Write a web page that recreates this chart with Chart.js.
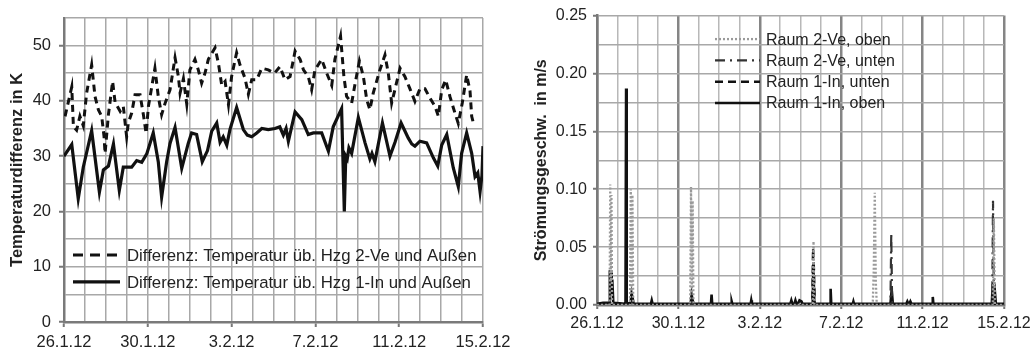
<!DOCTYPE html>
<html>
<head>
<meta charset="utf-8">
<script src="https://cdn.jsdelivr.net/npm/chart.js@4.4.0/dist/chart.umd.min.js"></script>
<style>
  body { margin: 0; background: #fff; }
  #wrap { position: relative; width: 1033px; height: 354px; }
  #tempChart { position: absolute; left: 0; top: 0; }
  #flowChart { position: absolute; left: 520px; top: 0; }
</style>
</head>
<body>
<div id="wrap">
  <canvas id="tempChart" width="520" height="354"></canvas>
  <canvas id="flowChart" width="513" height="354"></canvas>
</div>
<script>
// x = Tage seit 26.1.12 0:00
const dateLabels = ['26.1.12', '30.1.12', '3.2.12', '7.2.12', '11.2.12', '15.2.12'];

const tempLegend = [
  'Differenz: Temperatur üb. Hzg 2-Ve und Außen',
  'Differenz: Temperatur üb. Hzg 1-In und Außen'
];
const flowLegend = ['Raum 2-Ve, oben', 'Raum 2-Ve, unten', 'Raum 1-In, unten', 'Raum 1-In, oben'];

// Temperaturdifferenz in K
const diff2Ve = [
  [0.05,37.2],[0.37,42.5],[0.45,35.3],[0.6,34.7],[0.76,37.2],[0.92,35.5],[1.08,41.4],[1.32,46.5],
  [1.48,40.8],[1.64,38.4],[1.8,37.2],[1.91,33.6],[1.96,30.5],[2.12,37.5],[2.32,43.5],[2.44,39.7],
  [2.68,38.1],[2.83,39],[2.99,33.5],[3.07,36],[3.23,37.8],[3.39,41.1],[3.63,41.1],[3.79,37.5],
  [3.92,34.1],[4.03,39],[4.34,45.9],[4.5,40.8],[4.66,37.5],[4.82,39.5],[5.06,42],[5.3,47.8],
  [5.46,44.4],[5.54,41.4],[5.7,44],[5.86,39.4],[6.01,45.6],[6.25,47.5],[6.41,45.6],[6.57,43.2],
  [6.73,45],[6.89,47.5],[7.21,49.6],[7.37,46.8],[7.53,42.8],[7.69,43.5],[7.85,39.3],[8.0,44.4],
  [8.24,48.7],[8.4,46.5],[8.64,44.1],[8.8,41.2],[8.96,43.8],[9.2,43.8],[9.44,45.9],[9.75,45.6],
  [10.05,45],[10.31,46.2],[10.55,43.8],[10.79,44.4],[11.03,49],[11.27,47.5],[11.43,45.6],[11.66,44.4],
  [11.82,42],[11.98,45.6],[12.3,47.5],[12.54,45],[12.78,42.8],[12.93,47.5],[13.2,51.7],[13.36,44.4],
  [13.49,40.8],[13.73,39.6],[13.89,43],[14.1,47.2],[14.29,44.4],[14.45,40.2],[14.6,38.4],[14.76,41.4],
  [15.08,45.6],[15.32,48.3],[15.48,45],[15.64,39.6],[15.8,42.1],[16.04,45.9],[16.27,44.4],[16.51,42.2],
  [16.75,39.9],[16.99,42.2],[17.23,42.2],[17.47,40.5],[17.71,39],[17.87,37.2],[18.03,42],[18.22,43.8],
  [18.42,40.8],[18.66,37.8],[18.82,35.9],[19.01,39.6],[19.22,44.7],[19.38,41.8],[19.46,37.2],[19.54,36]
];
const diff1In = [
  [0,30],[0.37,32.1],[0.68,22.3],[0.92,28],[1.32,34.6],[1.69,23.5],[1.88,27.5],[2.12,28.2],
  [2.36,32.2],[2.64,23.8],[2.83,28],[3.23,28],[3.47,29.2],[3.71,28.9],[3.95,30.4],[4.26,34.2],
  [4.5,29],[4.66,22.6],[4.9,29],[5.06,32.3],[5.3,35.2],[5.62,27.8],[5.93,32.3],[6.09,34.2],
  [6.33,33.9],[6.6,29],[6.85,31],[7.05,34.5],[7.29,36],[7.45,32.5],[7.6,33.5],[7.77,32],
  [7.92,34.8],[8.24,38.8],[8.56,34.8],[8.75,33.8],[8.96,33.5],[9.2,34.2],[9.44,35],[9.75,34.8],
  [10.07,35],[10.3,35.3],[10.47,33.8],[10.6,35],[10.71,32.7],[11.03,38],[11.35,36.6],[11.66,33.9],
  [11.9,34.2],[12.3,34.2],[12.62,30.9],[12.85,35.3],[13.25,38.6],[13.38,20],[13.45,30],[13.52,29.5],
  [13.6,31.5],[13.73,30.5],[14.05,37],[14.37,32.4],[14.6,29.5],[14.7,30.5],[14.84,29],[15.2,36],
  [15.56,30],[15.8,32.5],[16.09,36],[16.43,33.3],[16.6,32.2],[16.75,31.8],[16.99,32.7],[17.31,32.4],
  [17.63,29.7],[17.84,28.2],[18.03,32],[18.27,33.9],[18.58,27.9],[18.82,24.5],[18.98,30.5],[19.22,34.2],
  [19.46,30.5],[19.62,26.3],[19.75,27],[19.86,23.6],[19.95,26.5],[20,31.8]
];

// Strömungsgeschwindigkeit in m/s
const raum2VeOben = [
  [0,0],[0.62,0],[0.65,0.104],[0.68,0.02],[0.71,0.095],[0.74,0],[1.62,0],[1.66,0.1],[1.7,0.01],
  [1.74,0.095],[1.78,0],[4.58,0],[4.62,0.102],[4.66,0.01],[4.7,0.09],[4.74,0],[10.6,0],[10.64,0.055],
  [10.68,0],[13.55,0],[13.6,0.03],[13.65,0.097],[13.7,0.02],[13.75,0],[19.45,0],[19.5,0.075],[19.55,0],[20,0]
];
const raum2VeUnten = [
  [0,0],[14.42,0],[14.46,0.062],[14.5,0.005],[14.54,0],[19.42,0],[19.46,0.09],[19.5,0.01],[19.54,0],[20,0]
];
const raum1InUnten = [
  [0,0],[10.58,0],[10.62,0.049],[10.66,0.03],[10.7,0],[20,0]
];
const raum1InOben = [
  [0,0.001],[0.3,0.002],[0.6,0.002],[0.63,0.03],[0.66,0.008],[0.69,0.028],[0.72,0.01],[0.75,0.022],
  [0.8,0.002],[1.4,0.001],[1.43,0.187],[1.46,0.001],[1.65,0.002],[1.7,0.01],[1.75,0.006],[1.8,0.001],
  [2.65,0.001],[2.69,0.004],[2.73,0.001],[4.6,0.001],[4.65,0.009],[4.7,0.004],[4.75,0.001],[5.6,0.001],
  [5.63,0.009],[5.66,0.001],[6.6,0.001],[6.62,0.003],[6.65,0.001],[7.55,0.001],[7.58,0.004],[7.61,0.001],
  [9.5,0.001],[9.55,0.004],[9.6,0.001],[9.7,0.001],[9.75,0.004],[9.8,0.001],[9.9,0.002],[9.95,0.004],
  [10.05,0.003],[10.1,0.001],[10.6,0.001],[10.63,0.035],[10.68,0.001],[11.45,0.001],[11.48,0.014],[11.51,0.001],
  [12.57,0.001],[12.6,0.003],[12.63,0.001],[14.42,0.001],[14.48,0.013],[14.54,0.001],[15.2,0.001],[15.25,0.003],
  [15.3,0.001],[15.35,0.001],[15.4,0.003],[15.45,0.001],[16.47,0.001],[16.5,0.007],[16.53,0.001],[19.4,0.001],
  [19.45,0.018],[19.5,0.008],[19.55,0.012],[19.6,0.001],[20,0.001]
];

const FONT = '"Liberation Sans", Arial, sans-serif';
const toXY = arr => arr.map(p => ({ x: p[0], y: p[1] }));

// Legende innerhalb der Zeichenfläche
const innerLegend = {
  id: 'innerLegend',
  afterDraw(chart, args, opts) {
    const ctx = chart.ctx;
    const a = chart.chartArea;
    ctx.save();
    ctx.font = opts.fontSize + 'px ' + FONT;
    ctx.textBaseline = 'middle';
    ctx.fillStyle = '#222';
    opts.labels.forEach((text, i) => {
      const ds = chart.data.datasets[opts.order[i]];
      const y = a.top + opts.y + i * opts.rowGap;
      const x0 = a.left + opts.x;
      ctx.beginPath();
      ctx.setLineDash(ds.legendDash || ds.borderDash || []);
      ctx.strokeStyle = ds.borderColor;
      ctx.lineWidth = ds.borderWidth;
      ctx.moveTo(x0, y);
      ctx.lineTo(x0 + opts.sampleLen, y);
      ctx.stroke();
      ctx.setLineDash([]);
      ctx.fillText(text, a.left + opts.textX, y + 1);
    });
    ctx.restore();
  }
};

const dayTick = v => (v % 4 === 0 ? dateLabels[v / 4] : '');
// keine automatische Randzugabe für die Datumsbeschriftung
const fixX = h => s => { s.height = h; s.paddingLeft = 0; s.paddingRight = 0; };

new Chart(document.getElementById('tempChart'), {
  type: 'line',
  data: {
    datasets: [
      { data: toXY(diff2Ve), borderColor: '#111', borderWidth: 3, borderDash: [7, 5], legendDash: [10, 7],
        pointRadius: 0, tension: 0 },
      { data: toXY(diff1In), borderColor: '#111', borderWidth: 3.2, pointRadius: 0, tension: 0 }
    ]
  },
  options: {
    responsive: false,
    animation: false,
    layout: { padding: { left: 0, right: 37, top: 16, bottom: 0 } },
    plugins: {
      legend: { display: false },
      tooltip: { enabled: false },
      innerLegend: { labels: tempLegend, order: [0, 1], fontSize: 16.8, x: 9, y: 237, rowGap: 27, sampleLen: 47, textX: 63 }
    },
    scales: {
      x: {
        type: 'linear', min: 0, max: 20,
        afterFit: fixX(32),
        ticks: { stepSize: 1, autoSkip: false, maxRotation: 0, padding: 6, color: '#222', font: { family: FONT, size: 16.5 }, callback: dayTick },
        grid: { color: '#a8a8a8', lineWidth: 1.5, tickLength: 5, tickWidth: 2,
                tickColor: c => (c.tick && c.tick.value % 4 === 0 ? '#777' : 'rgba(0,0,0,0)') },
        border: { color: '#7a7a7a', width: 2.5 }
      },
      y: {
        min: 0, max: 55,
        afterFit: s => { s.width = 64; },
        ticks: { stepSize: 5, padding: 8, color: '#222', font: { family: FONT, size: 16.5 },
                 callback: v => (v % 10 === 0 ? v : '') },
        grid: { color: '#a8a8a8', lineWidth: 1.5, tickLength: 5, tickWidth: 2,
                tickColor: c => (c.tick && c.tick.value % 10 === 0 ? '#777' : 'rgba(0,0,0,0)') },
        border: { color: '#7a7a7a', width: 2.5 },
        title: { display: true, text: 'Temperaturdifferenz in K', color: '#222',
                 font: { family: FONT, size: 16.5, weight: 'bold' }, padding: { top: 8, bottom: 0 } }
      }
    }
  },
  plugins: [innerLegend]
});

new Chart(document.getElementById('flowChart'), {
  type: 'line',
  data: {
    datasets: [
      { data: toXY(raum2VeOben), borderColor: '#9a9a9a', borderWidth: 2.3, borderDash: [2, 2], pointRadius: 0, tension: 0 },
      { data: toXY(raum2VeUnten), borderColor: '#333', borderWidth: 2.2, borderDash: [10, 5, 2, 5], pointRadius: 0, tension: 0 },
      { data: toXY(raum1InUnten), borderColor: '#111', borderWidth: 2.5, borderDash: [8, 5], pointRadius: 0, tension: 0 },
      { data: toXY(raum1InOben), borderColor: '#111', borderWidth: 2.6, pointRadius: 0, tension: 0 }
    ]
  },
  options: {
    responsive: false,
    animation: false,
    layout: { padding: { left: 0, right: 29, top: 9, bottom: 0 } },
    plugins: {
      legend: { display: false },
      tooltip: { enabled: false },
      innerLegend: { labels: flowLegend, order: [0, 1, 2, 3], fontSize: 16, x: 118, y: 23.5, rowGap: 21.3, sampleLen: 45, textX: 169 }
    },
    scales: {
      x: {
        type: 'linear', min: 0, max: 20,
        afterFit: fixX(49),
        ticks: { stepSize: 1, autoSkip: false, maxRotation: 0, padding: 5, color: '#222', font: { family: FONT, size: 16 }, callback: dayTick },
        grid: {
          color: c => (c.tick && c.tick.value % 4 === 0 ? '#858585' : '#b8b8b8'),
          lineWidth: c => (c.tick && c.tick.value % 4 === 0 ? 2.5 : 1.5),
          tickLength: 4, tickWidth: 2,
          tickColor: c => (c.tick && c.tick.value % 4 === 0 ? '#777' : 'rgba(0,0,0,0)')
        },
        border: { color: '#7a7a7a', width: 2.5 }
      },
      y: {
        min: 0, max: 0.25,
        afterFit: s => { s.width = 77; },
        ticks: { stepSize: 0.025, padding: 6, color: '#222', font: { family: FONT, size: 16 },
                 callback: v => (Math.round(v * 1000) % 50 === 0 ? v.toFixed(2) : '') },
        grid: { color: '#a8a8a8', lineWidth: 1.5, tickLength: 4, tickWidth: 2,
                tickColor: c => (c.tick && Math.round(c.tick.value * 1000) % 50 === 0 ? '#777' : 'rgba(0,0,0,0)') },
        border: { color: '#7a7a7a', width: 2.5 },
        title: { display: true, text: 'Strömungsgeschw.  in m/s', color: '#222',
                 font: { family: FONT, size: 16, weight: 'bold' }, padding: { top: 12, bottom: 0 } }
      }
    }
  },
  plugins: [innerLegend]
});
</script>
</body>
</html>
